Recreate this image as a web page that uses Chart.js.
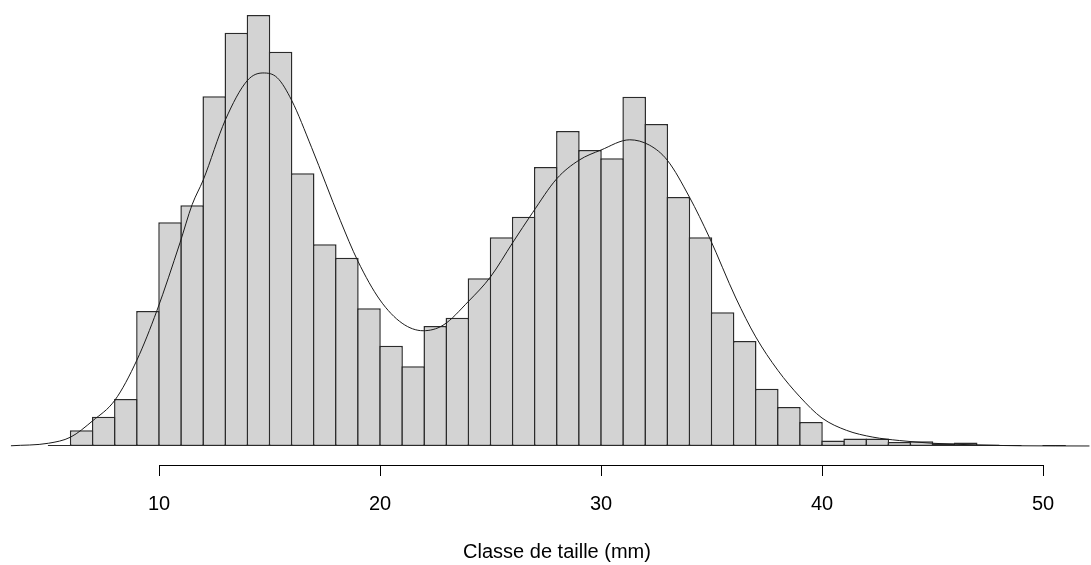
<!DOCTYPE html>
<html>
<head>
<meta charset="utf-8">
<script src="https://cdn.jsdelivr.net/npm/chart.js@4/dist/chart.umd.min.js"></script>
<style>
html,body{margin:0;padding:0;background:#fff;}
#wrap{width:1091px;height:565px;position:relative;}
</style>
</head>
<body>
<div id="wrap"><canvas id="c"></canvas></div>
<script>
// Histogram bins (1 mm wide), left edges
const binStarts = [5,6,7,8,9,10,11,12,13,14,15,16,17,18,19,20,21,22,23,24,25,26,27,28,29,30,31,32,33,34,35,36,37,38,39,40,41,42,43,44,45,46,47,48,49,50];
// Density of each bin
const binHeights = [0.00015,0.0023,0.0043,0.0069,0.0198,0.0328,0.0353,0.0513,0.0606,0.0632,0.0578,0.0400,0.0296,0.0276,0.0202,0.0147,0.0117,0.0176,0.0188,0.0246,0.0306,0.0336,0.0409,0.0462,0.0434,0.0422,0.0512,0.0472,0.0365,0.0306,0.0196,0.0154,0.0084,0.0057,0.0035,0.0008,0.0011,0.0011,0.0006,0.0007,0.0004,0.0005,0.0002,0.00015,0,0.00015];
// Kernel density curve
const curveX = [3.3,5.0,6.0,7.0,8.0,9.0,9.9,10.95,11.5,12.0,13.0,14.0,14.7,15.35,16.0,16.9,18.2,19.0,20.0,21.0,21.95,22.85,24.0,25.0,26.0,26.9,28.0,29.0,30.0,31.3,32.2,33.0,34.0,34.9,36.1,37.0,38.0,39.0,40.0,41.1,42.3,43.5,45.0,47.1,49.0,52.1];
const curveY = [0.00003,0.0004,0.0013,0.0037,0.0067,0.0126,0.0198,0.0298,0.0354,0.0390,0.0478,0.0536,0.0547,0.0540,0.0507,0.0438,0.0331,0.0271,0.0214,0.0180,0.0169,0.0177,0.0212,0.0248,0.0298,0.0342,0.0392,0.0419,0.0434,0.0449,0.0441,0.0419,0.0365,0.0306,0.0217,0.0160,0.0111,0.0072,0.0041,0.0023,0.0013,0.0008,0.0004,0.00015,0.00003,0.0];
const tickValues = [10,20,30,40,50];
const xTitle = 'Classe de taille (mm)';

const FONT = '"Liberation Sans", Arial, "DejaVu Sans", sans-serif';

const axisLine = {
  id: 'axisLine',
  afterDraw(chart) {
    const xs = chart.scales.x;
    const ctx = chart.ctx;
    const y = Math.round(chart.chartArea.bottom) + 0.5;
    const x1 = Math.round(xs.getPixelForValue(tickValues[0])) + 0.5;
    const x2 = Math.round(xs.getPixelForValue(tickValues[tickValues.length - 1])) + 0.5;
    ctx.save();
    ctx.strokeStyle = '#000';
    ctx.lineWidth = 1;
    ctx.beginPath();
    ctx.moveTo(x1, y);
    ctx.lineTo(x2, y);
    ctx.stroke();
    ctx.restore();
  }
};

new Chart(document.getElementById('c'), {
  type: 'bar',
  data: {
    datasets: [
      {
        type: 'line',
        data: curveX.map((x, i) => ({x: x, y: curveY[i]})),
        borderColor: '#1a1a1a',
        borderWidth: 1,
        pointRadius: 0,
        fill: false,
        cubicInterpolationMode: 'monotone',
        clip: false,
        order: 1
      },
      {
        type: 'bar',
        data: binStarts.map((s, i) => ({x: s + 0.5, y: binHeights[i]})),
        backgroundColor: '#d3d3d3',
        borderColor: '#2b2b2b',
        borderWidth: 1.5,
        borderSkipped: false,
        barPercentage: 1.068,
        categoryPercentage: 1,
        order: 2
      }
    ]
  },
  options: {
    responsive: true,
    maintainAspectRatio: false,
    animation: false,
    devicePixelRatio: 1,
    layout: {padding: {left: 23, right: 0, top: 0, bottom: 0}},
    plugins: {legend: {display: false}, tooltip: {enabled: false}},
    scales: {
      x: {
        type: 'linear',
        min: 3.846,
        max: 52.17,
        offset: false,
        afterBuildTicks: (scale) => { scale.ticks = tickValues.map(v => ({value: v})); },
        afterFit: (scale) => { scale.height = 100; },
        grid: {
          offset: false,
          drawOnChartArea: false,
          drawTicks: true,
          tickLength: 11,
          color: '#000',
          lineWidth: 1
        },
        border: {display: false},
        ticks: {
          autoSkip: false,
          maxRotation: 0,
          padding: 16,
          color: '#000',
          font: {family: FONT, size: 20},
          callback: (v) => String(v)
        },
        title: {
          display: true,
          text: xTitle,
          color: '#000',
          font: {family: FONT, size: 20},
          padding: {top: 0, bottom: 1}
        }
      },
      y: {
        type: 'linear',
        display: false,
        min: -0.00279,
        max: 0.0654
      }
    }
  },
  plugins: [axisLine]
});
</script>
</body>
</html>
